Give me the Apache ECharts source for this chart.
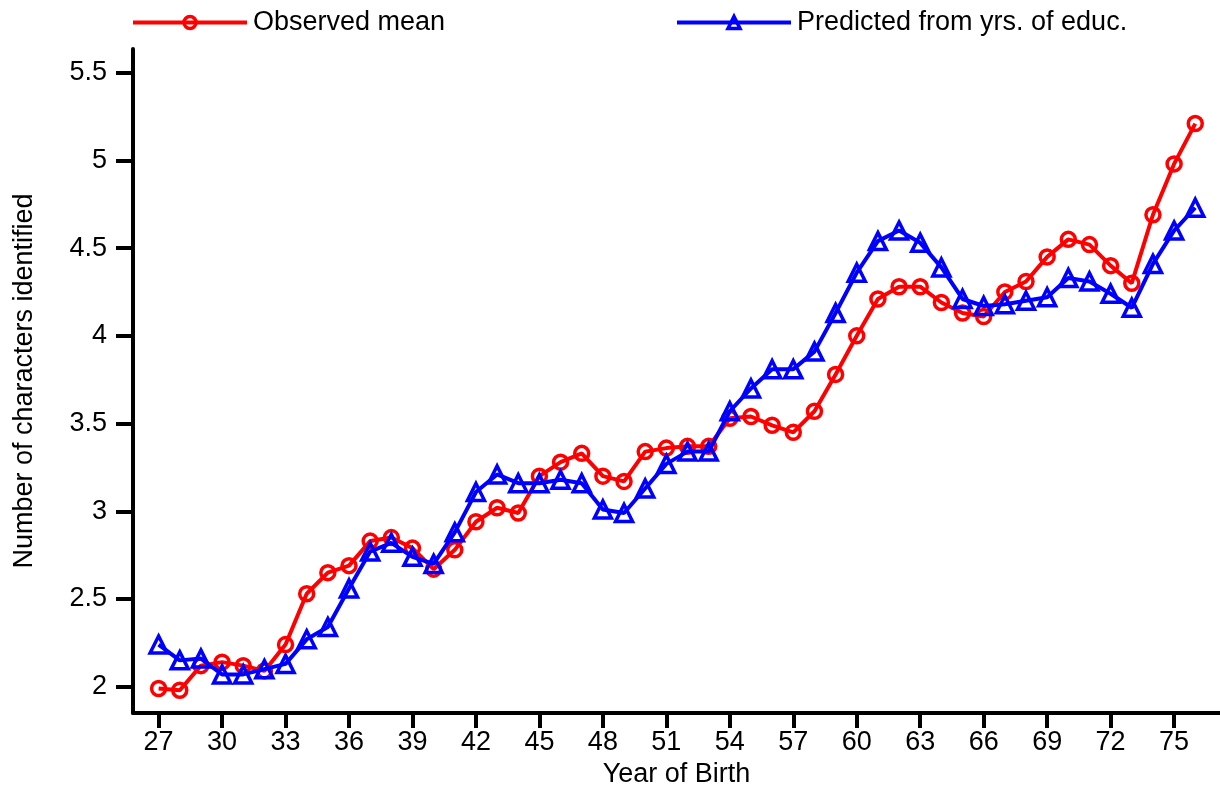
<!DOCTYPE html>
<html>
<head>
<meta charset="utf-8">
<title>Characters identified by year of birth</title>
<script src="https://cdn.jsdelivr.net/npm/echarts@6/dist/echarts.min.js"></script>
<style>
  html, body { margin: 0; padding: 0; background: #ffffff; }
  #chart { width: 1220px; height: 786px; }
</style>
</head>
<body>
<div id="chart"></div>
<script>
// Birth years (19xx), one point per year
const years = [27,28,29,30,31,32,33,34,35,36,37,38,39,40,41,42,43,44,45,46,47,48,49,50,51,
               52,53,54,55,56,57,58,59,60,61,62,63,64,65,66,67,68,69,70,71,72,73,74,75,76];

// Observed mean number of characters identified
const observedMean = [1.99,1.98,2.12,2.14,2.12,2.09,2.24,2.53,2.65,2.69,2.83,2.85,2.79,2.67,2.78,
                      2.94,3.02,2.99,3.20,3.28,3.33,3.20,3.17,3.34,3.36,3.37,3.37,3.53,3.54,3.49,
                      3.45,3.57,3.78,4.00,4.21,4.28,4.28,4.19,4.13,4.11,4.25,4.31,4.45,4.55,4.52,
                      4.40,4.30,4.69,4.98,5.21];

// Prediction from years of education
const predicted = [2.24,2.15,2.16,2.07,2.07,2.10,2.13,2.27,2.34,2.56,2.77,2.82,2.74,2.70,2.88,
                   3.11,3.21,3.16,3.16,3.18,3.16,3.01,2.99,3.13,3.27,3.34,3.34,3.57,3.70,3.81,
                   3.81,3.91,4.13,4.36,4.54,4.60,4.53,4.39,4.21,4.17,4.18,4.20,4.22,4.33,4.31,
                   4.24,4.16,4.41,4.60,4.73];

// Tick labels
const xTicks = [27,30,33,36,39,42,45,48,51,54,57,60,63,66,69,72,75];
const yTicks = [2,2.5,3,3.5,4,4.5,5,5.5];

const seriesNames = ['Observed mean', 'Predicted from yrs. of educ.'];

const FONT = 'Liberation Sans, Arial, Helvetica, sans-serif';
const FONT_SIZE = 27;
const RED = '#ff0000';
const BLUE = '#0000ff';

const chart = echarts.init(document.getElementById('chart'), null, { renderer: 'canvas' });

const pairs = (ys) => years.map((y, i) => [y, ys[i]]);

const legendBase = {
  top: 4,
  itemWidth: 114,
  itemHeight: 15,
  lineStyle: { width: 4 },
  itemStyle: { borderWidth: 3.5 },
  textStyle: { fontFamily: FONT, fontSize: FONT_SIZE, color: '#000', padding: [0, 0, 0, 1] }
};

chart.setOption({
  animation: false,
  backgroundColor: '#ffffff',
  legend: [
    Object.assign({}, legendBase, { left: 126, data: [seriesNames[0]] }),
    Object.assign({}, legendBase, { left: 670, data: [seriesNames[1]] })
  ],
  grid: {
    left: 133, right: 0, top: 49, bottom: 73,
    containLabel: false,
    outerBoundsMode: 'none'
  },
  xAxis: {
    type: 'value',
    min: 25.79,
    max: 77.17,
    name: 'Year of Birth',
    nameLocation: 'middle',
    nameGap: 34,
    nameTextStyle: { fontFamily: FONT, fontSize: FONT_SIZE, color: '#000' },
    axisLine: { show: true, onZero: false, lineStyle: { color: '#000', width: 4 } },
    axisTick: { show: true, length: 15, customValues: xTicks, lineStyle: { color: '#000', width: 4 } },
    axisLabel: { customValues: xTicks, margin: 16, fontFamily: FONT, fontSize: FONT_SIZE, color: '#000' },
    splitLine: { show: false }
  },
  yAxis: {
    type: 'value',
    min: 1.85,
    max: 5.635,
    name: 'Number of characters identified',
    nameLocation: 'middle',
    nameGap: 95,
    nameRotate: 90,
    nameTextStyle: { fontFamily: FONT, fontSize: FONT_SIZE, color: '#000' },
    axisLine: { show: true, onZero: false, lineStyle: { color: '#000', width: 4 } },
    axisTick: { show: true, length: 17, customValues: yTicks, lineStyle: { color: '#000', width: 4 } },
    axisLabel: { customValues: yTicks, margin: 26, fontFamily: FONT, fontSize: FONT_SIZE, color: '#000' },
    splitLine: { show: false }
  },
  series: [
    {
      name: seriesNames[0],
      type: 'line',
      data: pairs(observedMean),
      symbol: 'circle',
      symbolSize: 14,
      showAllSymbol: true,
      lineStyle: { color: RED, width: 4 },
      itemStyle: { color: 'rgba(0,0,0,0)', borderColor: RED, borderWidth: 3.5 },
      emphasis: { disabled: true },
      z: 2
    },
    {
      name: seriesNames[1],
      type: 'line',
      data: pairs(predicted),
      symbol: 'triangle',
      symbolSize: 17,
      showAllSymbol: true,
      lineStyle: { color: BLUE, width: 4 },
      itemStyle: { color: 'rgba(0,0,0,0)', borderColor: BLUE, borderWidth: 3.5 },
      emphasis: { disabled: true },
      z: 3
    }
  ]
});
</script>
</body>
</html>
